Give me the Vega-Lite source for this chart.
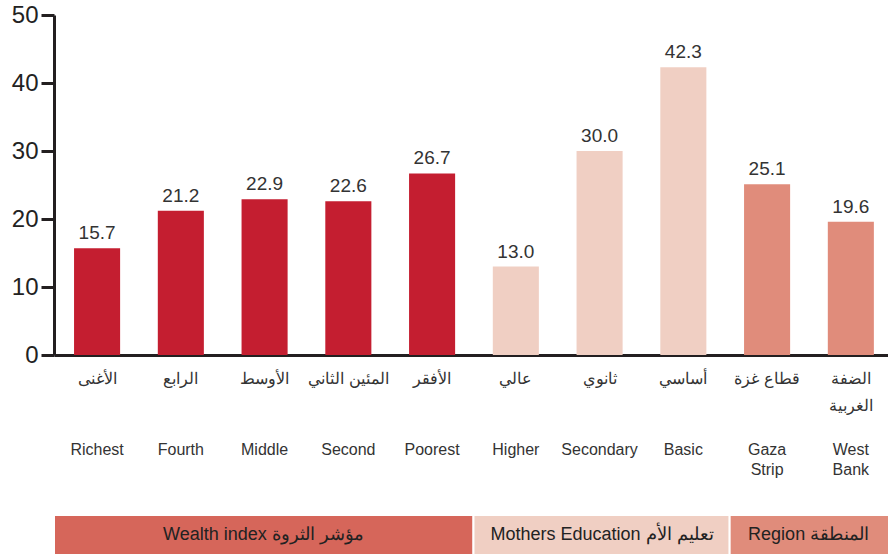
{
  "$schema": "https://vega.github.io/schema/vega-lite/v6.json",
  "padding": {"left": 11, "top": 3, "right": 0, "bottom": 5},
  "background": "white",
  "config": {"view": {"stroke": null}, "font": "Liberation Sans"},
  "bounds": "flush",
  "spacing": 160,
  "datasets": {
    "bars": [
      {"ar": "الأغنى", "en": "Richest", "value": 15.7, "group": "Wealth"},
      {"ar": "الرابع", "en": "Fourth", "value": 21.2, "group": "Wealth"},
      {"ar": "الأوسط", "en": "Middle", "value": 22.9, "group": "Wealth"},
      {"ar": "المئين الثاني", "en": "Second", "value": 22.6, "group": "Wealth"},
      {"ar": "الأفقر", "en": "Poorest", "value": 26.7, "group": "Wealth"},
      {"ar": "عالي", "en": "Higher", "value": 13.0, "group": "Education"},
      {"ar": "ثانوي", "en": "Secondary", "value": 30.0, "group": "Education"},
      {"ar": "أساسي", "en": "Basic", "value": 42.3, "group": "Education"},
      {"ar": "قطاع غزة", "en": "Gaza|Strip", "value": 25.1, "group": "Region"},
      {"ar": "الضفة|الغربية", "en": "West|Bank", "value": 19.6, "group": "Region"}
    ],
    "bands": [
      {"group": "Wealth", "start": -0.524, "end": 4.47, "mid": 1.97, "text": "Wealth index مؤشر الثروة"},
      {"group": "Education", "start": 4.47, "end": 7.52, "mid": 6.0, "text": "Mothers Education تعليم الأم"},
      {"group": "Region", "start": 7.52, "end": 9.417, "mid": 8.46, "text": "Region المنطقة"}
    ]
  },
  "vconcat": [
    {
      "width": 835,
      "height": 340,
      "data": {"name": "bars"},
      "encoding": {
        "x": {
          "field": "ar",
          "type": "nominal",
          "sort": null,
          "scale": {"paddingInner": 0.45, "paddingOuter": 0.21, "align": 0.57},
          "axis": {
            "title": null,
            "labelAngle": 0,
            "labelExpr": "split(datum.label, '|')",
            "labelLineHeight": 27,
            "labelFontSize": 16,
            "labelColor": "#333333",
            "labelPadding": 23,
            "labelBaseline": "middle",
            "ticks": false,
            "domainColor": "#231f20",
            "domainWidth": 3,
            "labelFont": "Liberation Sans"
          }
        },
        "y": {
          "field": "value",
          "type": "quantitative",
          "scale": {"domain": [0, 50]},
          "axis": {
            "title": null,
            "values": [0, 10, 20, 30, 40, 50],
            "grid": false,
            "domainColor": "#231f20",
            "domainWidth": 3,
            "tickColor": "#231f20",
            "tickWidth": 3,
            "tickSize": 13,
            "labelFontSize": 24,
            "labelColor": "#222222",
            "labelPadding": 3
          }
        }
      },
      "layer": [
        {
          "mark": {"type": "bar"},
          "encoding": {
            "color": {
              "field": "group",
              "type": "nominal",
              "scale": {"domain": ["Wealth", "Education", "Region"], "range": ["#c41e30", "#f0cfc3", "#e08c7b"]},
              "legend": null
            }
          }
        },
        {
          "mark": {"type": "text", "baseline": "bottom", "dy": -5, "fontSize": 19, "color": "#333333"},
          "encoding": {"text": {"field": "value", "type": "quantitative", "format": ".1f"}}
        },
        {
          "mark": {"type": "text", "baseline": "top", "fontSize": 16, "color": "#333333", "lineBreak": "|", "lineHeight": 20},
          "encoding": {
            "y": {"datum": -12.8},
            "text": {"field": "en"}
          }
        }
      ]
    },
    {
      "width": 835,
      "height": 40,
      "data": {"name": "bands"},
      "encoding": {
        "x": {"field": "start", "type": "quantitative", "scale": {"domain": [-0.524, 9.417], "nice": false, "zero": false}, "axis": null}
      },
      "layer": [
        {
          "mark": {"type": "rect", "stroke": "white", "strokeWidth": 2},
          "encoding": {
            "x2": {"field": "end"},
            "color": {
              "field": "group",
              "type": "nominal",
              "scale": {"domain": ["Wealth", "Education", "Region"], "range": ["#d6665a", "#f0cfc3", "#e08c7b"]},
              "legend": null
            }
          }
        },
        {
          "mark": {"type": "text", "fontSize": 18, "color": "#222222", "baseline": "middle"},
          "encoding": {
            "x": {"field": "mid", "type": "quantitative"},
            "text": {"field": "text"}
          }
        }
      ],
      "resolve": {"scale": {"color": "independent"}}
    }
  ],
  "resolve": {"scale": {"color": "independent", "x": "independent"}}
}
